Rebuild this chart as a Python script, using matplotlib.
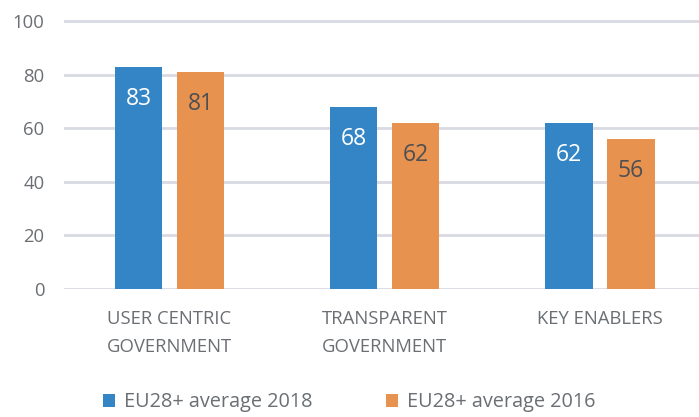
import numpy as np
import matplotlib.pyplot as plt

plt.rcParams['font.family'] = ['Open Sans', 'DejaVu Sans']

categories = ['USER CENTRIC\nGOVERNMENT', 'TRANSPARENT\nGOVERNMENT', 'KEY ENABLERS']
avg_2018 = [83, 68, 62]
avg_2016 = [81, 62, 56]
series_labels = ['EU28+ average 2018', 'EU28+ average 2016']

blue = '#3385c6'
orange = '#e89250'
grey = '#6b6f73'
grid_col = '#d9dbe2'

fig = plt.figure(figsize=(6.99, 4.17), dpi=100)
ax = fig.add_axes([0.0916, 0.307, 0.9084, 0.6556])

x = np.arange(len(categories))
w = 0.22
off = 0.144
b1 = ax.bar(x - off, avg_2018, w, color=blue, label=series_labels[0], zorder=3)
b2 = ax.bar(x + off, avg_2016, w, color=orange, label=series_labels[1], zorder=3)

# value labels sit just inside the top of each bar
for bars, vals, tc in [(b1, avg_2018, 'white'), (b2, avg_2016, '#4d4f52')]:
    for rect, v in zip(bars, vals):
        ax.text(rect.get_x() + rect.get_width() / 2, v - 12, str(v),
                ha='center', va='center', color=tc, fontsize=16.5, zorder=4)

ax.set_ylim(0, 102)
ax.set_xlim(-0.49, 2.46)
ax.set_yticks(range(0, 101, 20))
ax.set_xticks(x)
ax.set_xticklabels(categories, linespacing=1.75)
ax.yaxis.grid(True, color=grid_col, linewidth=2, zorder=0)
ax.tick_params(axis='both', length=0, labelsize=13.3, labelcolor=grey)
ax.tick_params(axis='y', pad=14)
ax.tick_params(axis='x', pad=15)
for s in ax.spines.values():
    s.set_visible(False)

leg = fig.legend(handles=[b1, b2], loc='center', bbox_to_anchor=(0.5, 0.035),
                 ncol=2, frameon=False, fontsize=14.3, handlelength=0.6,
                 handleheight=0.6, handletextpad=0.45, columnspacing=3.7)
for t in leg.get_texts():
    t.set_color(grey)

fig.savefig('out.png')
